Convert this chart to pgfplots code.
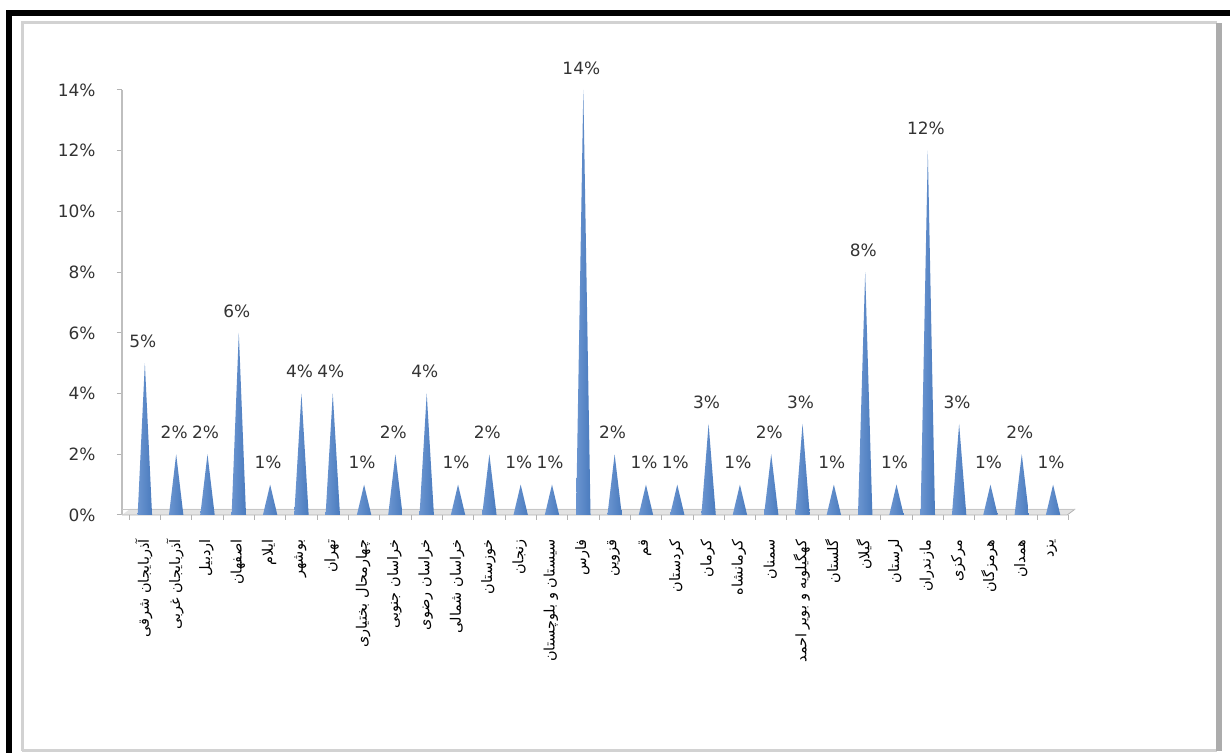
\documentclass[border=0pt]{standalone}
\usepackage{fontspec}
\setmainfont{DejaVu Sans}
\newfontfamily\fa[Script=Arabic]{DejaVu Sans}
\TeXXeTstate=1
\usepackage{pgfplots}
\usepackage{pgfplotstable}
\pgfplotsset{compat=1.18}
\definecolor{coneL}{HTML}{6B95D0}
\definecolor{coneM}{HTML}{2A5595}
\definecolor{coneR}{HTML}{4A7BBE}
\definecolor{txt}{HTML}{333333}
\pgfplotstableread{
dx f
-0.23 0
0 1
0.23 0
}\conetable
\newcommand\cone[2]{\addplot[draw=none, left color=coneL, middle color=coneM, right color=coneR] table[x expr=\thisrow{dx}+#1, y expr=\thisrow{f}*#2]{\conetable};}
\begin{document}
\begin{tikzpicture}[x=1bp,y=1bp]
\useasboundingbox (0,0) rectangle (1230,753);
\fill[white] (0,0) rectangle (1230,753);
% outer black frame
\fill[black] (6,737) rectangle (1230,743);
\fill[black] (6,0) rectangle (12,743);
% inner gray frame
\draw[gray!35, line width=3bp] (22,2) -- (22,730) -- (1217,730);
\draw[gray!35, line width=3bp] (22,2) -- (1217,2);
\draw[gray!65, line width=6bp] (1219,2) -- (1219,730);
\begin{axis}[
  at={(122bp,238bp)}, anchor=south west,
  scale only axis, width=953bp, height=425bp,
  xmin=-0.73, xmax=29.7, ymin=0, ymax=14,
  axis lines=left,
  x axis line style={draw=none},
  y axis line style={draw=gray!50, line width=2.5bp, -},
  tick align=outside,
  ytick={0,2,...,14},
  yticklabel={\pgfmathprintnumber{\tick}\%},
  /pgf/number format/assume math mode=true,
  yticklabel style={font=\fontsize{17}{19}\selectfont, text=txt, xshift=-18bp},
  major tick length=5bp,
  ytick style={draw=gray!60, line width=1bp},
  xtick={0,...,29},
  major x tick style={draw=none},
  minor xtick={-0.5,0.5,...,29.5},
  minor x tick style={draw=gray!60, line width=0.8bp},
  minor tick length=5bp,
  xticklabels={\beginR آذربایجان شرقی\endR,\beginR آذربایجان غربی\endR,\beginR اردبیل\endR,\beginR اصفهان\endR,\beginR ایلام\endR,\beginR بوشهر\endR,\beginR تهران\endR,\beginR چهارمحال بختیاری\endR,\beginR خراسان جنوبی\endR,\beginR خراسان رضوی\endR,\beginR خراسان شمالی\endR,\beginR خوزستان\endR,\beginR زنجان\endR,\beginR سیستان و بلوچستان\endR,\beginR فارس\endR,\beginR قزوین\endR,\beginR قم\endR,\beginR کردستان\endR,\beginR کرمان\endR,\beginR کرمانشاه\endR,\beginR سمنان\endR,\beginR کهگیلویه و بویر احمد\endR,\beginR گلستان\endR,\beginR گیلان\endR,\beginR لرستان\endR,\beginR مازندران\endR,\beginR مرکزی\endR,\beginR هرمزگان\endR,\beginR همدان\endR,\beginR یزد\endR},
  xticklabel style={rotate=90, anchor=east, font=\fa\fontsize{14.5}{16}\selectfont, text=black, xshift=-16bp, yshift=1bp},
  clip=false,
]
% floor
\fill[gray!22] (axis cs:-0.73,0) -- (axis cs:29.45,0) -- ([shift={(8bp,6bp)}]axis cs:29.45,0) -- ([shift={(8bp,6bp)}]axis cs:-0.73,0) -- cycle;
\draw[gray!60, line width=0.8bp] (axis cs:-0.73,0) -- (axis cs:29.45,0) -- ([shift={(8bp,6bp)}]axis cs:29.45,0);
\draw[gray!45, line width=0.6bp] ([shift={(0bp,6bp)}]axis cs:-0.73,0) -- ([shift={(8bp,6bp)}]axis cs:29.45,0);
\cone{0}{5}
\cone{1}{2}
\cone{2}{2}
\cone{3}{6}
\cone{4}{1}
\cone{5}{4}
\cone{6}{4}
\cone{7}{1}
\cone{8}{2}
\cone{9}{4}
\cone{10}{1}
\cone{11}{2}
\cone{12}{1}
\cone{13}{1}
\cone{14}{14}
\cone{15}{2}
\cone{16}{1}
\cone{17}{1}
\cone{18}{3}
\cone{19}{1}
\cone{20}{2}
\cone{21}{3}
\cone{22}{1}
\cone{23}{8}
\cone{24}{1}
\cone{25}{12}
\cone{26}{3}
\cone{27}{1}
\cone{28}{2}
\cone{29}{1}
\addplot[draw=none, mark=none, point meta=y,
  nodes near coords={\pgfmathprintnumber{\pgfplotspointmeta}\%},
  every node near coord/.append style={anchor=south, yshift=12bp, xshift=-2bp, font=\fontsize{17}{19}\selectfont, text=txt, /pgf/number format/assume math mode=true}]
coordinates {(0,5)(1,2)(2,2)(3,6)(4,1)(5,4)(6,4)(7,1)(8,2)(9,4)(10,1)(11,2)(12,1)(13,1)(14,14)(15,2)(16,1)(17,1)(18,3)(19,1)(20,2)(21,3)(22,1)(23,8)(24,1)(25,12)(26,3)(27,1)(28,2)(29,1)};
\end{axis}
\end{tikzpicture}
\end{document}
